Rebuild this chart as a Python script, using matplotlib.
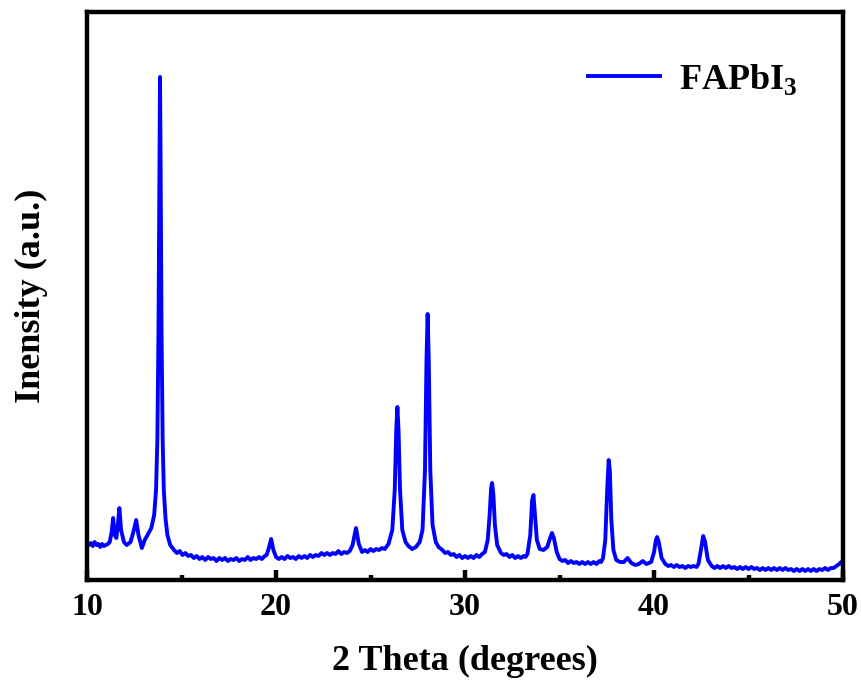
import matplotlib
matplotlib.use("Agg")
import matplotlib.pyplot as plt
from matplotlib.ticker import MultipleLocator

plt.rcParams['font.family'] = ['Liberation Serif', 'DejaVu Serif']
plt.rcParams['font.weight'] = 'bold'
plt.rcParams['mathtext.fontset'] = 'custom'
plt.rcParams['mathtext.rm'] = 'Liberation Serif:bold'
plt.rcParams['mathtext.bf'] = 'Liberation Serif:bold'

# XRD pattern (2 theta in degrees, intensity in a.u.)
two_theta = [
    10.0, 10.1, 10.2, 10.3, 10.4, 10.5, 10.6, 10.7, 10.8, 10.9, 11.0, 11.1,
    11.2, 11.3, 11.38, 11.46, 11.55, 11.63, 11.71, 11.8, 11.95, 12.1, 12.3,
    12.45, 12.6, 12.72, 12.9, 13.05, 13.2, 13.4,
    13.55, 13.65, 13.72, 13.78, 13.83, 13.86, 13.89, 13.94, 14.0, 14.06, 14.15,
    14.25, 14.4,
    14.6, 14.75, 14.9, 15.05, 15.2, 15.35, 15.5, 15.65, 15.8, 15.95, 16.1,
    16.25, 16.4, 16.55, 16.7, 16.85, 17.0, 17.15, 17.3, 17.45, 17.6, 17.75,
    17.9, 18.05, 18.2, 18.35, 18.5, 18.65, 18.8, 18.95, 19.1, 19.25, 19.4,
    19.5, 19.62, 19.74, 19.86,
    20.0, 20.15, 20.3, 20.45, 20.6, 20.75, 20.9, 21.05, 21.2, 21.35, 21.5,
    21.65, 21.8, 21.95, 22.1, 22.25, 22.4, 22.55, 22.7, 22.85, 23.0, 23.15,
    23.3, 23.45, 23.6, 23.75, 23.9, 24.05, 24.23, 24.38,
    24.55, 24.7, 24.85, 25.0, 25.15, 25.3, 25.45, 25.6, 25.75, 25.95, 26.15,
    26.28, 26.36, 26.42, 26.48, 26.56, 26.68, 26.85, 27.0, 27.2, 27.4, 27.6,
    27.75, 27.88, 27.96, 28.02, 28.08, 28.16, 28.28, 28.45, 28.6,
    28.8, 28.95, 29.1, 29.25, 29.4, 29.55, 29.7, 29.85, 30.0, 30.15, 30.3,
    30.45, 30.6, 30.75, 30.9, 31.05, 31.2, 31.3, 31.38, 31.43, 31.5,
    31.58, 31.7,
    31.9, 32.05, 32.2, 32.35, 32.5, 32.65, 32.8, 32.95, 33.1, 33.2, 33.3,
    33.45, 33.55, 33.62, 33.7,
    33.8, 33.95, 34.15, 34.35, 34.5, 34.6, 34.7, 34.85,
    35.0, 35.15, 35.3, 35.45, 35.6, 35.75, 35.9, 36.05, 36.2, 36.35, 36.5,
    36.65, 36.8, 36.95, 37.1, 37.2, 37.3, 37.42, 37.52, 37.6, 37.66, 37.74,
    37.85, 38.0,
    38.2, 38.4, 38.6, 38.8, 39.0, 39.2, 39.4, 39.6, 39.85, 40.0, 40.1, 40.16,
    40.25, 40.4,
    40.6, 40.75, 40.9, 41.05, 41.2, 41.35, 41.5, 41.65, 41.8, 41.95, 42.1,
    42.25, 42.35, 42.48, 42.6, 42.7, 42.85,
    43.05, 43.2, 43.35, 43.5, 43.65, 43.8, 43.95, 44.1, 44.25, 44.4, 44.55,
    44.7, 44.85, 45.0, 45.15, 45.3, 45.45, 45.6, 45.75, 45.9, 46.05, 46.2,
    46.35, 46.5, 46.65, 46.8, 46.95, 47.1, 47.25, 47.4, 47.55, 47.7, 47.85,
    48.0, 48.15, 48.3, 48.45, 48.6, 48.75, 48.9, 49.05, 49.2, 49.35, 49.5,
    49.65, 49.8, 49.9, 50.0,
]
intensity = [
    37, 35, 37, 34, 38, 35, 36, 33, 36, 34, 35, 36,
    38, 48, 62, 45, 42, 55, 72, 50, 38, 35, 38,
    48, 60, 45, 32, 40, 45, 52,
    65, 90, 140, 250, 420, 503, 420, 250, 140, 90, 62,
    45, 35,
    30, 27, 29, 25, 27, 24, 25, 22, 24, 21, 23,
    20, 23, 21, 22, 19, 22, 20, 22, 19, 21, 20,
    22, 19, 21, 20, 23, 20, 22, 21, 23, 21, 24,
    25, 32, 41, 30,
    23, 21, 23, 21, 24, 22, 23, 21, 24, 22, 24,
    22, 25, 23, 25, 24, 27, 25, 27, 25, 27, 26,
    29, 26, 28, 27, 29, 35, 52, 36,
    28, 30, 28, 31, 29, 31, 30, 32, 31, 36, 50,
    90, 150, 173, 150, 90, 50, 38, 34, 31, 33, 38,
    50, 110, 220, 266, 220, 110, 55, 38, 33,
    30, 27, 28, 25, 26, 23, 25, 22, 24, 22, 24,
    22, 25, 23, 26, 28, 40, 65, 92, 97, 85,
    55, 35,
    27, 25, 26, 23, 25, 22, 24, 22, 24, 23, 26,
    45, 80, 85, 65,
    40, 31, 30, 33, 42, 47, 42, 28,
    21, 19, 20, 17, 19, 17, 18, 16, 18, 16, 18,
    16, 18, 16, 19, 18, 22, 40, 90, 120, 110, 60,
    30, 20,
    18, 18, 22, 17, 15, 16, 19, 16, 18, 28, 40, 43,
    38, 22,
    16, 14, 15, 13, 15, 13, 14, 12, 14, 13, 14,
    13, 16, 30, 44, 38, 20,
    14, 12, 14, 12, 14, 12, 14, 12, 13, 11, 13,
    11, 13, 11, 13, 11, 12, 10, 12, 10, 12, 10,
    12, 10, 12, 10, 12, 10, 11, 9, 11, 9, 11,
    9, 11, 9, 11, 9, 11, 10, 12, 10, 12, 12,
    14, 16, 18, 17,
]

fig = plt.figure(figsize=(8.62, 6.90), dpi=100)
ax = fig.add_axes([0.101, 0.1594, 0.877, 0.8232])

ax.plot(two_theta, intensity, color='#0000FF', linewidth=2.8, label=r'FAPbI$_3$')

ax.set_xlim(10, 50)
ax.set_ylim(0, 568)
ax.xaxis.set_major_locator(MultipleLocator(10))
ax.xaxis.set_minor_locator(MultipleLocator(5))
ax.set_yticks([])

for s in ax.spines.values():
    s.set_linewidth(3.2)
ax.tick_params(axis='x', which='major', direction='in', length=7, width=3.2,
               labelsize=23, pad=9)
ax.tick_params(axis='x', which='minor', direction='in', length=3.5, width=3.2)

ax.set_xlabel('2 Theta (degrees)', fontsize=26, fontweight='bold', labelpad=17)
ax.set_ylabel('Inensity (a.u.)', fontsize=26, fontweight='bold', labelpad=28)

ax.legend(loc='center left', bbox_to_anchor=(0.663, 0.882), frameon=False,
          fontsize=26, handlelength=2.0, handletextpad=0.5,
          borderpad=0, borderaxespad=0)

fig.savefig('out.png', dpi=100)
